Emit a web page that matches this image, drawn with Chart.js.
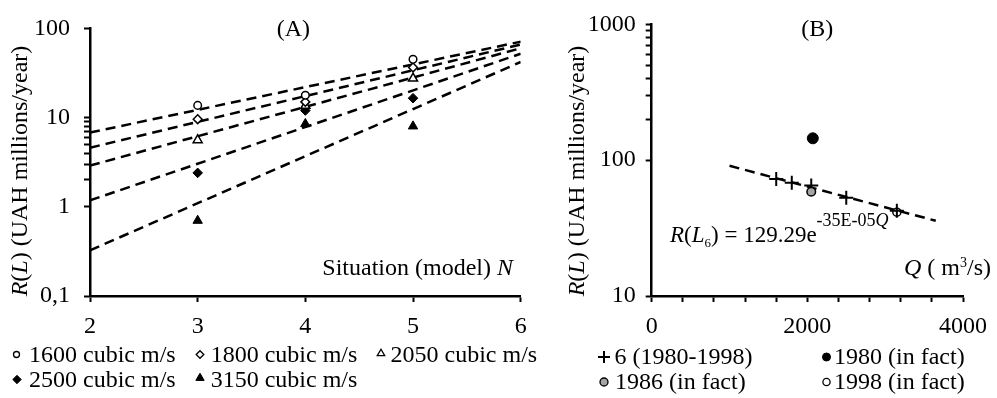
<!DOCTYPE html>
<html>
<head>
<meta charset="utf-8">
<script src="https://cdn.jsdelivr.net/npm/chart.js@4.4.1/dist/chart.umd.min.js"></script>
<style>
  html, body { margin: 0; padding: 0; background: #fff; }
  #wrap { position: relative; width: 997px; height: 398px; overflow: hidden; }
  canvas { position: absolute; top: 0; }
  #chartA { left: 0; }
  #chartB { left: 560px; }
</style>
</head>
<body>
<div id="wrap">
  <canvas id="chartA" width="560" height="398"></canvas>
  <canvas id="chartB" width="437" height="398"></canvas>
</div>
<script>
// ---- panel A data: R(L) per situation N, one array per flow ----
const situations = [3, 4, 5];
const flowLabels = ["1600 cubic m/s", "1800 cubic m/s", "2050 cubic m/s", "2500 cubic m/s", "3150 cubic m/s"];
const r1600 = [13.7, 17.8, 45];
const r1800 = [9.6, 15, 36.5];
const r2050 = [5.6, 13.6, 27.5];
const r2500 = [2.4, 12, 16.5];
const r3150 = [0.7, 8.5, 8];
// trend lines (exponential) read at both ends, N = 2 and N = 6
const trendN = [2, 6];
const trend1600 = [6.8, 71];
const trend1800 = [4.6, 66];
const trend2050 = [2.9, 60];
const trend2500 = [1.18, 52];
const trend3150 = [0.325, 42];
const yTickValsA = [0.1, 1, 10, 100];
const yTickTextA = ["0,1", "1", "10", "100"];
const yMinorA = [2, 3, 4, 5, 6, 7, 8, 9];

// ---- panel B data: R(L6) against discharge Q ----
const bLabels = ["6 (1980-1998)", "1980 (in fact)", "1986 (in fact)", "1998 (in fact)"];
const modelQ = [1600, 1800, 2050, 2500, 3150];
const modelR = [72.6, 68.2, 65, 53, 42.4];
const fact1980Q = [2070];
const fact1980R = [145];
const fact1986Q = [2050];
const fact1986R = [58.6];
const fact1998Q = [3150];
const fact1998R = [41.4];
const trendQ = [1000, 3650];
const trendR = [91, 35.8];
const yTickValsB = [10, 100, 1000];
const yTickTextB = ["10", "100", "1000"];
const yMinorB = [200, 300, 400, 500, 600, 700, 800, 900];
const qTickText = ["0", "2000", "4000"];

const SERIF = '"Liberation Serif", "Times New Roman", serif';
const FS = 24;
Chart.defaults.font.family = SERIF;
Chart.defaults.font.size = FS;
Chart.defaults.color = "#000";

function pts(xs, ys) {
  return xs.map((x, i) => ({ x: x, y: ys[i] }));
}

function pointSet(label, xs, ys, style, radius, fill, border, order) {
  return {
    label: label,
    data: pts(xs, ys),
    showLine: false,
    pointStyle: style,
    pointRadius: radius,
    pointHoverRadius: radius,
    backgroundColor: fill,
    borderColor: "#000",
    borderWidth: border,
    pointBorderWidth: border,
    order: order || 0,
  };
}

function trendSet(xs, ys) {
  return {
    label: "",
    data: pts(xs, ys),
    showLine: true,
    pointRadius: 0,
    borderColor: "#000",
    borderWidth: 2.5,
    borderDash: [10, 6],
    fill: false,
    order: 10,
  };
}

function tickLabel(vals, texts) {
  return (v) => {
    const i = vals.findIndex((t) => Math.abs(t - v) < 1e-9 * Math.max(1, t));
    return i >= 0 ? texts[i] : "";
  };
}

// mixed italic / sub / sup text on the canvas
function drawRich(ctx, parts, align) {
  const fontOf = (p) => (p.i ? "italic " : "") + (p.s || FS) + "px " + SERIF;
  let w = 0;
  parts.forEach((p) => {
    ctx.font = fontOf(p);
    w += ctx.measureText(p.t).width;
  });
  let x = align === "right" ? -w : align === "center" ? -w / 2 : 0;
  parts.forEach((p) => {
    ctx.font = fontOf(p);
    ctx.fillText(p.t, x, p.dy || 0);
    x += ctx.measureText(p.t).width;
  });
}

const richLabels = {
  id: "richLabels",
  afterDraw(chart, args, opts) {
    const ctx = chart.ctx;
    opts.items.forEach((it) => {
      ctx.save();
      ctx.translate(it.x, it.y);
      if (it.rotate) ctx.rotate(it.rotate);
      ctx.fillStyle = "#000";
      ctx.textBaseline = "alphabetic";
      drawRich(ctx, it.parts, it.align);
      ctx.restore();
    });
  },
};

// legend laid out on a fixed grid, markers drawn with Chart.js' own point helper
const gridLegend = {
  id: "gridLegend",
  afterDraw(chart, args, opts) {
    const ctx = chart.ctx;
    opts.items.forEach((it) => {
      const ds = chart.data.datasets[it.ds];
      ctx.save();
      ctx.fillStyle = ds.backgroundColor;
      ctx.strokeStyle = ds.borderColor;
      ctx.lineWidth = it.bw || ds.borderWidth;
      Chart.helpers.drawPoint(ctx, { pointStyle: ds.pointStyle, radius: it.r, borderWidth: it.bw || ds.borderWidth, rotation: 0 }, it.mx, it.my);
      ctx.fillStyle = "#000";
      ctx.font = FS + "px " + SERIF;
      ctx.textBaseline = "alphabetic";
      ctx.textAlign = "left";
      ctx.fillText(ds.label, it.tx, it.ty);
      ctx.restore();
    });
  },
};

function axisBase() {
  return {
    grid: { drawOnChartArea: false, drawTicks: true, tickLength: 6, tickWidth: 2, tickColor: "#000" },
    border: { display: true, color: "#000", width: 2.5 },
  };
}

// ---------------- panel A ----------------
new Chart(document.getElementById("chartA"), {
  type: "scatter",
  data: {
    datasets: [
      pointSet(flowLabels[0], situations, r1600, "circle", 3.8, "#fff", 1.5),
      pointSet(flowLabels[1], situations, r1800, "rectRot", 4.4, "#fff", 1.5),
      pointSet(flowLabels[2], situations, r2050, "triangle", 5.2, "#fff", 1.5),
      pointSet(flowLabels[3], situations, r2500, "rectRot", 4.8, "#000", 1),
      pointSet(flowLabels[4], situations, r3150, "triangle", 5.4, "#000", 1),
      trendSet(trendN, trend1600),
      trendSet(trendN, trend1800),
      trendSet(trendN, trend2050),
      trendSet(trendN, trend2500),
      trendSet(trendN, trend3150),
    ],
  },
  plugins: [richLabels, gridLegend],
  options: {
    responsive: false,
    animation: false,
    events: [],
    layout: { padding: { left: 0, right: 39.3, top: 22.7, bottom: 42 } },
    plugins: {
      legend: { display: false },
      tooltip: { enabled: false },
      richLabels: {
        items: [
          { x: 293.3, y: 36, align: "center", parts: [{ t: "(A)" }] },
          { x: 513, y: 275, align: "right", parts: [{ t: "Situation (model) " }, { t: "N", i: 1 }] },
          {
            x: 27, y: 171, align: "center", rotate: -Math.PI / 2,
            parts: [{ t: "R", i: 1 }, { t: "(" }, { t: "L", i: 1 }, { t: ") (UAH millions/year)" }],
          },
        ],
      },
      gridLegend: {
        items: [
          { ds: 0, mx: 16.5, my: 354.5, r: 3, bw: 1.3, tx: 29, ty: 362 },
          { ds: 1, mx: 200, my: 354.5, r: 3.8, bw: 1.3, tx: 210.7, ty: 362 },
          { ds: 2, mx: 381, my: 353.5, r: 4.3, bw: 1.3, tx: 390.5, ty: 362 },
          { ds: 3, mx: 17, my: 379.5, r: 4.2, bw: 1, tx: 29, ty: 387 },
          { ds: 4, mx: 200, my: 378, r: 4.8, bw: 1, tx: 210.7, ty: 387 },
        ],
      },
    },
    scales: {
      x: Object.assign(axisBase(), {
        type: "linear",
        min: 2,
        max: 6,
        ticks: { stepSize: 1, padding: 10, autoSkip: false, maxRotation: 0, callback: (v) => String(v) },
        afterFit: (s) => { s.height = 60; },
      }),
      y: Object.assign(axisBase(), {
        type: "logarithmic",
        min: 0.1,
        max: 100,
        afterBuildTicks: (s) => {
          s.ticks = yTickValsA.concat(yMinorA).sort((a, b) => a - b).map((v) => ({ value: v }));
        },
        ticks: { padding: 14, autoSkip: false, callback: tickLabel(yTickValsA, yTickTextA) },
        afterFit: (s) => { s.width = 90; },
      }),
    },
  },
});

// ---------------- panel B ----------------
new Chart(document.getElementById("chartB"), {
  type: "scatter",
  data: {
    datasets: [
      pointSet(bLabels[0], modelQ, modelR, "cross", 7, "#000", 2, 4),
      pointSet(bLabels[1], fact1980Q, fact1980R, "circle", 5.5, "#000", 1, 3),
      pointSet(bLabels[2], fact1986Q, fact1986R, "circle", 4.3, "#a5a5a5", 1.5, 2),
      pointSet(bLabels[3], fact1998Q, fact1998R, "circle", 4, "rgba(0,0,0,0)", 1.5, 1),
      trendSet(trendQ, trendR),
    ],
  },
  plugins: [richLabels, gridLegend],
  options: {
    responsive: false,
    animation: false,
    events: [],
    layout: { padding: { left: 0, right: 33.7, top: 22.7, bottom: 42 } },
    plugins: {
      legend: { display: false },
      tooltip: { enabled: false },
      richLabels: {
        items: [
          { x: 257.3, y: 36, align: "center", parts: [{ t: "(B)" }] },
          { x: 431, y: 275, align: "right", parts: [{ t: "Q", i: 1 }, { t: " ( m" }, { t: "3", s: 14, dy: -8 }, { t: "/s)" }] },
          {
            x: 110, y: 242, align: "left",
            parts: [
              { t: "R", i: 1, s: 23 }, { t: "(", s: 23 }, { t: "L", i: 1, s: 23 }, { t: "6", s: 13, dy: 5 },
              { t: ") = 129.29e", s: 23 }, { t: "-35E-05", s: 18, dy: -16 }, { t: "Q", i: 1, s: 18, dy: -16 },
            ],
          },
          {
            x: 24, y: 171, align: "center", rotate: -Math.PI / 2,
            parts: [{ t: "R", i: 1 }, { t: "(" }, { t: "L", i: 1 }, { t: ") (UAH millions/year)" }],
          },
        ],
      },
      gridLegend: {
        items: [
          { ds: 0, mx: 44, my: 357, r: 6, bw: 2, tx: 54.5, ty: 364 },
          { ds: 1, mx: 266.5, my: 357, r: 4, bw: 1, tx: 274, ty: 364 },
          { ds: 2, mx: 44, my: 382, r: 4, bw: 1.3, tx: 55, ty: 389 },
          { ds: 3, mx: 266.5, my: 382, r: 3.6, bw: 1.3, tx: 274, ty: 389 },
        ],
      },
    },
    scales: {
      x: Object.assign(axisBase(), {
        type: "linear",
        min: 0,
        max: 4000,
        ticks: {
          stepSize: 400,
          padding: 10,
          autoSkip: false,
          maxRotation: 0,
          callback: (v) => (v % 2000 === 0 ? qTickText[v / 2000] : ""),
        },
        afterFit: (s) => { s.height = 60; },
      }),
      y: Object.assign(axisBase(), {
        type: "logarithmic",
        min: 10,
        max: 1000,
        afterBuildTicks: (s) => {
          s.ticks = yTickValsB.concat(yMinorB).sort((a, b) => a - b).map((v) => ({ value: v }));
        },
        ticks: { padding: 10, autoSkip: false, callback: tickLabel(yTickValsB, yTickTextB) },
        afterFit: (s) => { s.width = 91.7; },
      }),
    },
  },
});
</script>
</body>
</html>
